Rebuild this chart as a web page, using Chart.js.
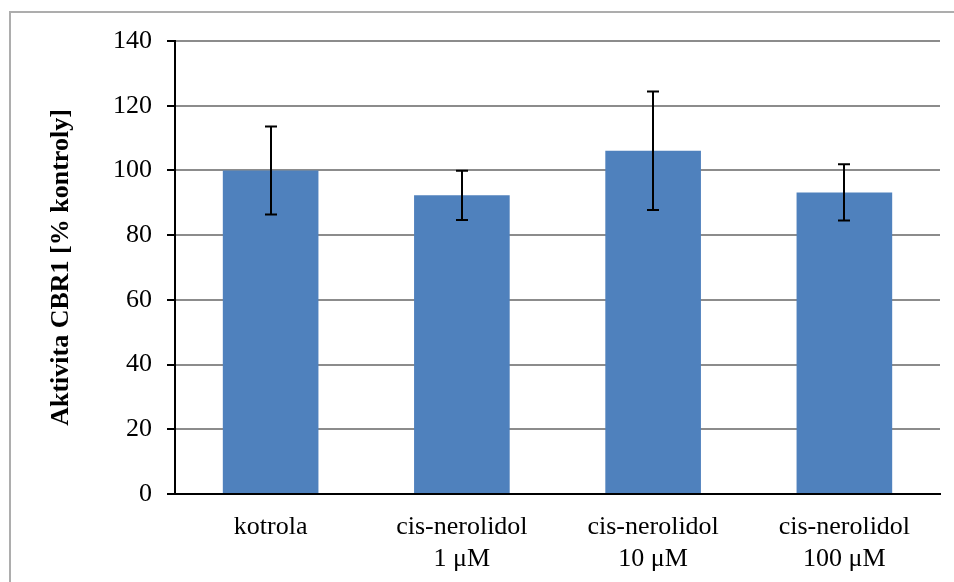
<!DOCTYPE html>
<html>
<head>
<meta charset="utf-8">
<script src="https://cdn.jsdelivr.net/npm/chart.js@4"></script>
<style>
  body { margin: 0; background: #fff; }
  .wrap { position: relative; width: 954px; height: 582px; overflow: hidden; }
  .frame { position: absolute; left: 9px; top: 11px; width: 1200px; height: 1200px; border: 2px solid #adadad; }
  #chart { position: absolute; left: 0; top: 0; }
</style>
</head>
<body>
<div class="wrap">
  <div class="frame"></div>
  <canvas id="chart" width="954" height="582"></canvas>
</div>
<script>
"use strict";

// Data
const categories = [
  "kotrola",
  ["cis-nerolidol", "1 μM"],
  ["cis-nerolidol", "10 μM"],
  ["cis-nerolidol", "100 μM"]
];
const activity = [100, 92.3, 106.1, 93.2];
const activityError = [13.6, 7.6, 18.3, 8.7];
const yTicks = [0, 20, 40, 60, 80, 100, 120, 140];

const serif = "'Liberation Serif', 'Times New Roman', serif";


// error bars drawn through the chart's own scales
const errorBars = {
  id: "errorBars",
  afterDatasetsDraw(chart) {
    const ctx = chart.ctx;
    const yScale = chart.scales.y;
    const meta = chart.getDatasetMeta(0);
    ctx.save();
    ctx.strokeStyle = "#000";
    ctx.lineWidth = 2;
    meta.data.forEach((bar, i) => {
      const x = Math.round(bar.x);
      const top = yScale.getPixelForValue(activity[i] + activityError[i]);
      const bottom = yScale.getPixelForValue(activity[i] - activityError[i]);
      ctx.beginPath();
      ctx.moveTo(x, top);
      ctx.lineTo(x, bottom);
      ctx.moveTo(x - 6, top);
      ctx.lineTo(x + 6, top);
      ctx.moveTo(x - 6, bottom);
      ctx.lineTo(x + 6, bottom);
      ctx.stroke();
    });
    ctx.restore();
  }
};


const chartEl = document.getElementById("chart");

new Chart(chartEl, {
  type: "bar",
  data: {
    labels: categories,
    datasets: [
      {
        data: activity,
        backgroundColor: "#4f81bd",
        borderWidth: 0,
        barPercentage: 0.5,
        categoryPercentage: 1
      }
    ]
  },
  options: {
    responsive: false,
    devicePixelRatio: 1,
    animation: false,
    layout: {
      padding: { left: 0, top: 41, right: 14, bottom: 0 }
    },
    plugins: {
      legend: { display: false },
      tooltip: { enabled: false }
    },
    scales: {
      x: {
        afterFit: (scale) => { scale.height = 88; },
        grid: { display: false },
        border: { color: "#000", width: 2 },
        ticks: {
          color: "#000",
          padding: 9,
          maxRotation: 0,
          font: { family: serif, size: 26, lineHeight: 1.23 }
        }
      },
      y: {
        min: 0,
        max: 140,
        afterFit: (scale) => { scale.width = 175; },
        afterBuildTicks: (scale) => {
          scale.ticks = yTicks.map(v => ({ value: v }));
        },
        grid: {
          color: (c) => (c.tick && c.tick.value === 0 ? "#000" : "#8c8c8c"),
          lineWidth: 2,
          tickColor: "#000",
          tickLength: 8
        },
        border: { color: "#000", width: 2 },
        ticks: {
          color: "#000",
          padding: 15,
          font: { family: serif, size: 26 }
        },
        title: {
          display: true,
          text: "Aktivita CBR1 [% kontroly]",
          color: "#000",
          padding: { top: 46, bottom: 0 },
          font: { family: serif, size: 26, weight: "bold" }
        }
      }
    }
  },
  plugins: [errorBars]
});
</script>
</body>
</html>
